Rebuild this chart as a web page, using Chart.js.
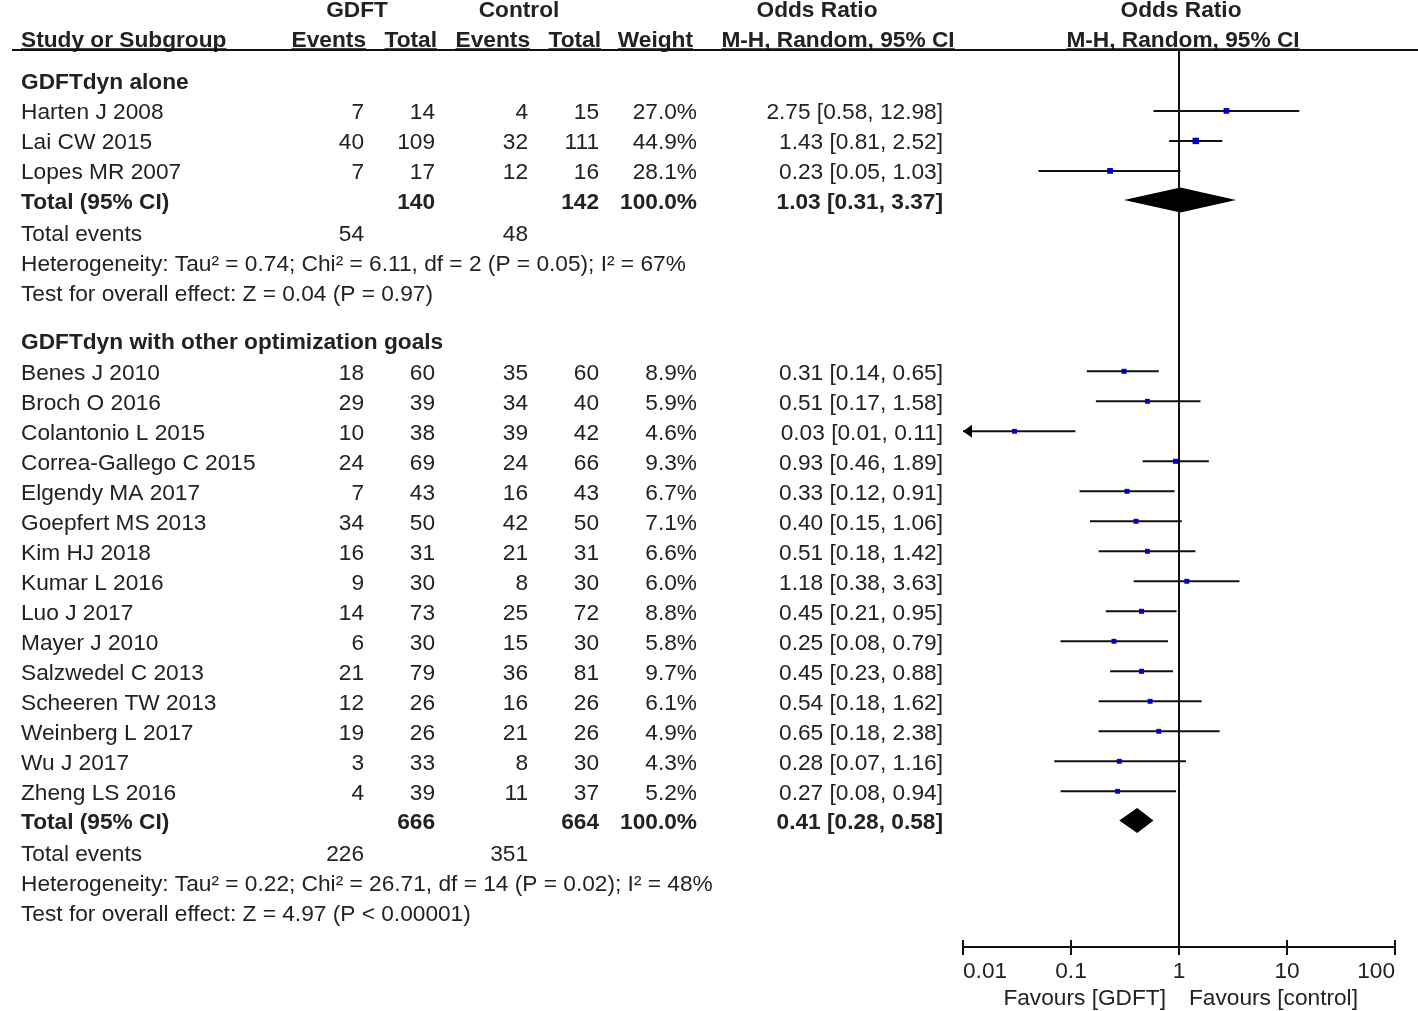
<!DOCTYPE html>
<html>
<head>
<meta charset="utf-8">
<title>Forest plot</title>
<script src="https://cdn.jsdelivr.net/npm/chart.js@4.4.1/dist/chart.umd.min.js"></script>
<style>
  html, body { margin: 0; padding: 0; background: #fff; }
  #wrap { position: relative; width: 1418px; height: 1011px; }
</style>
</head>
<body>
<div id="wrap"><canvas id="forest" width="1418" height="1011"></canvas></div>
<script>
// ---- data ----
const groupNames = ['GDFTdyn alone', 'GDFTdyn with other optimization goals'];
const studyGroup = [0, 0, 0, 1, 1, 1, 1, 1, 1, 1, 1, 1, 1, 1, 1, 1, 1, 1];
const studies = ['Harten J 2008', 'Lai CW 2015', 'Lopes MR 2007',
  'Benes J 2010', 'Broch O 2016', 'Colantonio L 2015', 'Correa-Gallego C 2015',
  'Elgendy MA 2017', 'Goepfert MS 2013', 'Kim HJ 2018', 'Kumar L 2016', 'Luo J 2017',
  'Mayer J 2010', 'Salzwedel C 2013', 'Scheeren TW 2013', 'Weinberg L 2017',
  'Wu J 2017', 'Zheng LS 2016'];
const gdftEvents = [7, 40, 7, 18, 29, 10, 24, 7, 34, 16, 9, 14, 6, 21, 12, 19, 3, 4];
const gdftTotal = [14, 109, 17, 60, 39, 38, 69, 43, 50, 31, 30, 73, 30, 79, 26, 26, 33, 39];
const ctrlEvents = [4, 32, 12, 35, 34, 39, 24, 16, 42, 21, 8, 25, 15, 36, 16, 21, 8, 11];
const ctrlTotal = [15, 111, 16, 60, 40, 42, 66, 43, 50, 31, 30, 72, 30, 81, 26, 26, 30, 37];
const weights = [27.0, 44.9, 28.1, 8.9, 5.9, 4.6, 9.3, 6.7, 7.1, 6.6, 6.0, 8.8, 5.8, 9.7, 6.1, 4.9, 4.3, 5.2];
const oddsRatio = [2.75, 1.43, 0.23, 0.31, 0.51, 0.03, 0.93, 0.33, 0.40, 0.51, 1.18, 0.45, 0.25, 0.45, 0.54, 0.65, 0.28, 0.27];
const ciLow = [0.58, 0.81, 0.05, 0.14, 0.17, 0.01, 0.46, 0.12, 0.15, 0.18, 0.38, 0.21, 0.08, 0.23, 0.18, 0.18, 0.07, 0.08];
const ciHigh = [12.98, 2.52, 1.03, 0.65, 1.58, 0.11, 1.89, 0.91, 1.06, 1.42, 3.63, 0.95, 0.79, 0.88, 1.62, 2.38, 1.16, 0.94];

const totalGdft = [140, 666];
const totalCtrl = [142, 664];
const totalOr = [1.03, 0.41];
const totalLow = [0.31, 0.28];
const totalHigh = [3.37, 0.58];
const eventsGdft = [54, 226];
const eventsCtrl = [48, 351];
const heterogeneity = [
  'Heterogeneity: Tau\u00b2 = 0.74; Chi\u00b2 = 6.11, df = 2 (P = 0.05); I\u00b2 = 67%',
  'Heterogeneity: Tau\u00b2 = 0.22; Chi\u00b2 = 26.71, df = 14 (P = 0.02); I\u00b2 = 48%'
];
const overallEffect = [
  'Test for overall effect: Z = 0.04 (P = 0.97)',
  'Test for overall effect: Z = 4.97 (P < 0.00001)'
];
const xTicks = [0.01, 0.1, 1, 10, 100];
const xTickLabels = ['0.01', '0.1', '1', '10', '100'];

// ---- row layout (in row units, 1 unit = one study line) ----
const studyRow = [];
const groupRows = [];
let r = 0;
groupNames.forEach((g, gi) => {
  const header = r;
  r += 1.03;
  studies.forEach((s, i) => {
    if (studyGroup[i] === gi) { studyRow[i] = r; r += 1; }
  });
  const total = r - 0.03;
  const events = total + 1.08;
  const het = events + 1;
  const test = het + 1;
  groupRows.push({ header, total, events, het, test });
  r = test + 1.6;
});

const FONT = '"Liberation Sans", Arial, Helvetica, sans-serif';
const SIZE = 22.7;
const TEXT = '#222';
const INK = '#111';

// column anchors for the table on the left
const COL = { name: 21, gEv: 364, gTot: 435, cEv: 528, cTot: 599, wt: 697, or: 943 };

function fmtCI(o, l, h) {
  return o.toFixed(2) + ' [' + l.toFixed(2) + ', ' + h.toFixed(2) + ']';
}

const forestPlugin = {
  id: 'forest',
  beforeDatasetsDraw(chart) {
    const { ctx, scales: { x, y } } = chart;
    ctx.save();
    ctx.strokeStyle = INK;
    ctx.fillStyle = '#000';
    ctx.lineWidth = 2;
    // confidence interval whiskers
    studies.forEach((s, i) => {
      const py = y.getPixelForValue(studyRow[i]);
      const lo = Math.max(ciLow[i], x.min);
      const x0 = x.getPixelForValue(lo);
      const x1 = x.getPixelForValue(Math.min(ciHigh[i], x.max));
      ctx.beginPath();
      ctx.moveTo(x0, py);
      ctx.lineTo(x1, py);
      ctx.stroke();
      if (ciLow[i] <= x.min) {
        ctx.beginPath();
        ctx.moveTo(x0, py);
        ctx.lineTo(x0 + 9, py - 6.5);
        ctx.lineTo(x0 + 9, py + 6.5);
        ctx.closePath();
        ctx.fill();
      }
    });
    // pooled diamonds
    groupRows.forEach((g, gi) => {
      const py = y.getPixelForValue(g.total);
      const xl = x.getPixelForValue(totalLow[gi]);
      const xm = x.getPixelForValue(totalOr[gi]);
      const xr = x.getPixelForValue(totalHigh[gi]);
      ctx.beginPath();
      ctx.moveTo(xl, py);
      ctx.lineTo(xm, py - 12.5);
      ctx.lineTo(xr, py);
      ctx.lineTo(xm, py + 12.5);
      ctx.closePath();
      ctx.fill();
    });
    ctx.restore();
  },
  afterDraw(chart) {
    const { ctx, chartArea, scales: { x, y } } = chart;
    ctx.save();
    ctx.fillStyle = TEXT;
    ctx.strokeStyle = INK;

    const put = (text, px, row, align, bold, underline) => {
      ctx.font = (bold ? 'bold ' : '') + SIZE + 'px ' + FONT;
      ctx.textAlign = align;
      ctx.textBaseline = 'alphabetic';
      const base = y.getPixelForValue(row) + 8.5;
      ctx.fillText(text, px, base);
      if (underline) {
        const w = ctx.measureText(text).width;
        const left = align === 'right' ? px - w : align === 'center' ? px - w / 2 : px;
        ctx.lineWidth = 1.5;
        ctx.beginPath();
        ctx.moveTo(left, base + 2.5);
        ctx.lineTo(left + w, base + 2.5);
        ctx.stroke();
      }
    };

    // headers
    const h1 = -2.37, h2 = -1.4;
    const one = x.getPixelForValue(1);
    put('GDFT', 357, h1, 'center', true);
    put('Control', 519, h1, 'center', true);
    put('Odds Ratio', 817, h1, 'center', true);
    put('Odds Ratio', one + 2, h1, 'center', true);
    put('Study or Subgroup', COL.name, h2, 'left', true, true);
    put('Events', COL.gEv + 2, h2, 'right', true, true);
    put('Total', COL.gTot + 2, h2, 'right', true, true);
    put('Events', COL.cEv + 2, h2, 'right', true, true);
    put('Total', COL.cTot + 2, h2, 'right', true, true);
    put('Weight', COL.wt - 4, h2, 'right', true, true);
    put('M-H, Random, 95% CI', 838, h2, 'center', true, true);
    put('M-H, Random, 95% CI', one + 4, h2, 'center', true, true);

    // rule under the header
    ctx.lineWidth = 2;
    ctx.beginPath();
    ctx.moveTo(12, chartArea.top);
    ctx.lineTo(1418, chartArea.top);
    ctx.stroke();

    // study rows
    studies.forEach((s, i) => {
      const row = studyRow[i];
      put(s, COL.name, row, 'left');
      put(String(gdftEvents[i]), COL.gEv, row, 'right');
      put(String(gdftTotal[i]), COL.gTot, row, 'right');
      put(String(ctrlEvents[i]), COL.cEv, row, 'right');
      put(String(ctrlTotal[i]), COL.cTot, row, 'right');
      put(weights[i].toFixed(1) + '%', COL.wt, row, 'right');
      put(fmtCI(oddsRatio[i], ciLow[i], ciHigh[i]), COL.or, row, 'right');
    });

    // subgroup headers and summaries
    groupRows.forEach((g, gi) => {
      put(groupNames[gi], COL.name, g.header, 'left', true);
      put('Total (95% CI)', COL.name, g.total, 'left', true);
      put(String(totalGdft[gi]), COL.gTot, g.total, 'right', true);
      put(String(totalCtrl[gi]), COL.cTot, g.total, 'right', true);
      put('100.0%', COL.wt, g.total, 'right', true);
      put(fmtCI(totalOr[gi], totalLow[gi], totalHigh[gi]), COL.or, g.total, 'right', true);
      put('Total events', COL.name, g.events, 'left');
      put(String(eventsGdft[gi]), COL.gEv, g.events, 'right');
      put(String(eventsCtrl[gi]), COL.cEv, g.events, 'right');
      put(heterogeneity[gi], COL.name, g.het, 'left');
      put(overallEffect[gi], COL.name, g.test, 'left');
    });

    // tick marks also reach a little above the axis line
    ctx.lineWidth = 2;
    x.ticks.forEach(t => {
      const px = x.getPixelForValue(t.value);
      ctx.beginPath();
      ctx.moveTo(px, chartArea.bottom - 7);
      ctx.lineTo(px, chartArea.bottom);
      ctx.stroke();
    });

    // favours labels
    ctx.font = SIZE + 'px ' + FONT;
    ctx.textBaseline = 'alphabetic';
    ctx.textAlign = 'right';
    ctx.fillText('Favours [GDFT]', one - 13, 1005);
    ctx.textAlign = 'left';
    ctx.fillText('Favours [control]', one + 10, 1005);
    ctx.restore();
  }
};

const ctx = document.getElementById('forest').getContext('2d');
const chart = new Chart(ctx, {
  type: 'scatter',
  data: {
    datasets: [{
      label: 'Odds ratio',
      data: studies.map((s, i) => ({ x: oddsRatio[i], y: studyRow[i] })),
      pointStyle: 'rect',
      pointRadius: studies.map((s, i) => 3.3 + 0.028 * weights[i]),
      backgroundColor: '#0000cc',
      borderWidth: 0
    }]
  },
  options: {
    responsive: false,
    animation: false,
    devicePixelRatio: 1,
    layout: { padding: { left: 963, right: 23, top: 50, bottom: 0 } },
    plugins: { legend: { display: false }, tooltip: { enabled: false } },
    scales: {
      x: {
        type: 'logarithmic',
        position: 'bottom',
        min: 0.01,
        max: 100,
        afterBuildTicks: axis => { axis.ticks = xTicks.map(v => ({ value: v })); },
        afterFit: axis => { axis.height = 64; },
        ticks: {
          autoSkip: false,
          maxRotation: 0,
          align: 'inner',
          padding: 3,
          color: TEXT,
          font: { family: FONT, size: SIZE },
          callback: (v, i) => xTickLabels[i]
        },
        grid: {
          drawOnChartArea: true,
          color: c => (c.tick && c.tick.value === 1 ? INK : 'rgba(0,0,0,0)'),
          lineWidth: 2,
          tickColor: INK,
          tickLength: 8,
          tickWidth: 2
        },
        border: { display: true, color: INK, width: 2 }
      },
      y: { display: false, reverse: true, min: -1, max: 28.9 }
    }
  },
  plugins: [forestPlugin]
});
</script>
</body>
</html>
